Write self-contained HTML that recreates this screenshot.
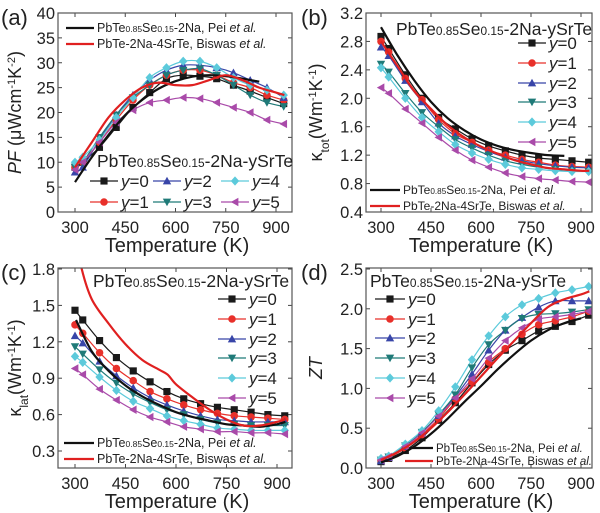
<!DOCTYPE html>
<html><head><meta charset="utf-8"><style>
html,body{margin:0;padding:0;background:#fff;}
svg{display:block;font-family:"Liberation Sans",sans-serif;}
</style></head><body>
<svg id="fig" width="600" height="513" viewBox="0 0 600 513" xmlns="http://www.w3.org/2000/svg"></svg>
<script>
// ---- shared data ----
const temps = [300,323,373,423,473,523,573,623,673,723,773,823,873,923];
const seriesLabels = ["y=0","y=1","y=2","y=3","y=4","y=5"];
const xTicks = [300,450,600,750,900];

// (a) power factor
const pfY0 = [9,10,13,17,21,24,26.8,27.5,27.3,26.8,25.5,24.3,23,21.8];
const pfY1 = [9,10,14,18.5,22.5,25.5,27.5,28.5,28.5,27.5,26,25,23.5,22.5];
const pfY2 = [8,9,14.5,19.5,23.5,26.5,28.5,29.5,29.5,29,28,26.5,25,23];
const pfY3 = [9,10,15,19.5,23,25.5,27.5,28.5,28.8,27.5,25.5,23.5,22,21.2];
const pfY4 = [10,11,14.5,19,23,27,29,30.3,30.3,29,27,25.5,24.5,23.5];
const pfY5 = [8.5,10,14,18,20.5,22,22.5,23,22.8,22,21,20,18.5,17.7];
const peiPfT = [300,350,400,450,500,550,600,650,700,750,800,850];
const peiPf = [6,11,15.5,19.5,22.5,24.8,26.3,27.2,27.5,27.3,26.8,26.2];
const bisPfT = [300,350,400,450,500,550,600,650,700,750,800,850,900,925];
const bisPf = [9,14,19,22.5,25,26,25.5,25.5,26.5,27.5,26.5,25,24,23.5];
const pfTicks = [0,5,10,15,20,25,30,35,40];

// (b) total thermal conductivity
const ktY0 = [2.87,2.7,2.33,2.0,1.73,1.57,1.43,1.33,1.26,1.2,1.16,1.14,1.12,1.10];
const ktY1 = [2.8,2.65,2.28,1.98,1.7,1.5,1.38,1.27,1.2,1.14,1.1,1.06,1.04,1.03];
const ktY2 = [2.72,2.6,2.25,1.95,1.65,1.47,1.35,1.25,1.17,1.12,1.08,1.05,1.03,1.02];
const ktY3 = [2.48,2.37,2.07,1.8,1.6,1.42,1.3,1.2,1.12,1.07,1.03,1.0,0.98,0.97];
const ktY4 = [2.43,2.3,2.0,1.73,1.53,1.35,1.23,1.14,1.07,1.02,1.0,0.98,0.97,0.97];
const ktY5 = [2.15,2.07,1.85,1.65,1.45,1.27,1.13,1.03,0.95,0.9,0.87,0.85,0.83,0.82];
const peiKtT = [300,350,400,450,500,550,600,650,700,750,800,850];
const peiKt = [3.0,2.6,2.25,1.95,1.72,1.55,1.42,1.33,1.27,1.23,1.2,1.19];
const bisKtT = [300,350,400,450,500,550,600,650,700,750,800,850,900,925];
const bisKt = [2.8,2.45,2.1,1.85,1.62,1.45,1.32,1.22,1.13,1.07,1.02,1.0,0.98,0.98];
const ktTicks = [0.4,0.8,1.2,1.6,2.0,2.4,2.8,3.2];

// (c) lattice thermal conductivity
const klY0 = [1.46,1.38,1.21,1.07,0.96,0.87,0.79,0.73,0.69,0.66,0.64,0.62,0.60,0.59];
const klY1 = [1.34,1.27,1.11,0.98,0.88,0.79,0.73,0.68,0.64,0.61,0.59,0.58,0.57,0.56];
const klY2 = [1.25,1.19,1.04,0.92,0.82,0.74,0.68,0.63,0.59,0.56,0.55,0.54,0.54,0.54];
const klY3 = [1.16,1.10,0.97,0.86,0.77,0.70,0.64,0.60,0.56,0.53,0.52,0.51,0.51,0.51];
const klY4 = [1.08,1.03,0.91,0.80,0.71,0.65,0.59,0.55,0.52,0.49,0.48,0.47,0.47,0.47];
const klY5 = [0.98,0.93,0.81,0.72,0.64,0.58,0.54,0.50,0.48,0.46,0.46,0.45,0.45,0.44];
const peiKlT = [303,350,400,450,500,550,600,650,700,750,800,850,900,925];
const peiKl = [1.38,1.12,0.96,0.84,0.75,0.68,0.62,0.58,0.55,0.52,0.51,0.50,0.52,0.54];
const bisKlT = [300,320,350,400,450,500,550,575,600,650,700,750,800,850,900,925];
const bisKl = [2.1,1.8,1.55,1.35,1.18,1.05,0.97,0.93,0.85,0.74,0.64,0.56,0.51,0.51,0.54,0.56];
const klTicks = [0.3,0.6,0.9,1.2,1.5,1.8];

// (d) ZT
const ztY0 = [0.08,0.12,0.22,0.38,0.6,0.82,1.07,1.3,1.48,1.6,1.72,1.78,1.84,1.92];
const ztY1 = [0.1,0.13,0.25,0.42,0.62,0.87,1.08,1.33,1.5,1.68,1.8,1.85,1.9,1.97];
const ztY2 = [0.09,0.13,0.27,0.45,0.66,0.9,1.18,1.48,1.73,1.89,2.02,2.1,2.1,2.1];
const ztY3 = [0.1,0.14,0.28,0.45,0.67,0.92,1.26,1.55,1.73,1.88,1.93,1.94,1.96,1.99];
const ztY4 = [0.12,0.15,0.3,0.47,0.72,1.02,1.36,1.66,1.9,2.05,2.13,2.2,2.24,2.28];
const ztY5 = [0.1,0.14,0.27,0.44,0.65,0.88,1.12,1.38,1.6,1.76,1.87,1.9,1.93,1.97];
const peiZtT = [300,350,400,450,500,550,600,650,700,750,800,850,900];
const peiZt = [0.07,0.15,0.27,0.43,0.62,0.83,1.03,1.24,1.43,1.6,1.73,1.82,1.88];
const bisZtT = [300,350,400,450,500,550,600,650,700,750,800,850,900,925];
const bisZt = [0.1,0.2,0.33,0.5,0.7,0.92,1.15,1.38,1.6,1.82,2.02,2.12,2.18,2.22];
const ztTicks = [0.0,0.5,1.0,1.5,2.0,2.5];

const colors = ["#1a1a1a","#e8302a","#3845a8","#1f7a78","#5ccadb","#a94aa9"];
const markers = ["square","circle","up","down","diamond","left"];
const NS = "http://www.w3.org/2000/svg";
const svg = document.getElementById("fig");

function el(tag, attrs, parent){ const e=document.createElementNS(NS,tag); for(const k in attrs) e.setAttribute(k,attrs[k]); (parent||svg).appendChild(e); return e; }

function smoothPath(pts){
  let d="M"+pts[0][0]+","+pts[0][1];
  for(let i=0;i<pts.length-1;i++){
    const p0=pts[i-1]||pts[i], p1=pts[i], p2=pts[i+1], p3=pts[i+2]||p2;
    const c1=[p1[0]+(p2[0]-p0[0])/6, p1[1]+(p2[1]-p0[1])/6];
    const c2=[p2[0]-(p3[0]-p1[0])/6, p2[1]-(p3[1]-p1[1])/6];
    d+=" C"+c1[0]+","+c1[1]+" "+c2[0]+","+c2[1]+" "+p2[0]+","+p2[1];
  }
  return d;
}

function marker(g, type, x, y, color, s){
  s = s||4.2;
  let m;
  if(type==="square") m=el("rect",{x:x-s*0.85,y:y-s*0.85,width:s*1.7,height:s*1.7,fill:color},g);
  else if(type==="circle") m=el("circle",{cx:x,cy:y,r:s*0.9,fill:color},g);
  else {
    let p;
    if(type==="up") p=[[x,y-s],[x+s,y+s*0.8],[x-s,y+s*0.8]];
    if(type==="down") p=[[x,y+s],[x+s,y-s*0.8],[x-s,y-s*0.8]];
    if(type==="left") p=[[x-s,y],[x+s*0.8,y-s],[x+s*0.8,y+s]];
    if(type==="diamond") p=[[x,y-s*1.1],[x+s,y],[x,y+s*1.1],[x-s,y]];
    m=el("polygon",{points:p.map(q=>q.join(",")).join(" "),fill:color},g);
  }
  return m;
}

function compText(parent, x, y, size, italicTail, parts){
  const t=el("text",{x:x,y:y,"font-size":size,fill:"#222"},parent);
  parts.forEach(p=>{ const ts=el("tspan",{},t); ts.textContent=p[0]; if(p[1]) ts.setAttribute("font-size",size*0.68); if(p[2]) ts.setAttribute("font-style","italic"); });
  return t;
}
const compTitle = [["PbTe"],["0.85",1],["Se"],["0.15",1],["-2Na-ySrTe"]];
const peiLabel = [["PbTe"],["0.85",1],["Se"],["0.15",1],["-2Na, Pei "],["et al.",0,1]];
const bisLabel = [["PbTe-2Na-4SrTe, Biswas "],["et al.",0,1]];

function panel(cfg){
  const g=el("g",{},svg);
  
  
  const X=t=>cfg.x300+(t-300)*cfg.xs;
  const Y=v=>cfg.yb+(v-cfg.ymin)*(cfg.yt-cfg.yb)/(cfg.ymax-cfg.ymin);
  const top=cfg.boxTop, bot=cfg.boxBot;
  const clipId="clip-"+cfg.name;
  const cp=el("clipPath",{id:clipId},g); el("rect",{x:cfg.bl,y:top,width:cfg.br-cfg.bl,height:bot-top},cp);
  cfg.yticks.forEach(v=>{
    const yy=Y(v);
    el("line",{x1:cfg.bl,y1:yy,x2:cfg.bl+4,y2:yy,stroke:"#444","stroke-width":1},g);
    el("line",{x1:cfg.br,y1:yy,x2:cfg.br-4,y2:yy,stroke:"#444","stroke-width":1},g);
    const t=el("text",{x:cfg.bl-3,y:yy+6,"text-anchor":"end","font-size":16.5,fill:"#222"},g);
    t.textContent=cfg.fmt(v);
    
    
  });
  xTicks.forEach(v=>{
    const xx=X(v);
    el("line",{x1:xx,y1:bot,x2:xx,y2:bot-4,stroke:"#444","stroke-width":1},g);
    el("line",{x1:xx,y1:top,x2:xx,y2:top+4,stroke:"#444","stroke-width":1},g);
    const t=el("text",{x:xx,y:bot+21,"text-anchor":"middle","font-size":16.5,fill:"#222"},g);
    t.textContent=v;
    
    
  });
  const xt=el("text",{x:(cfg.bl+cfg.br)/2+2,y:bot+40,"text-anchor":"middle","font-size":20,fill:"#222"},g);
  xt.textContent="Temperature (K)";
  
  
  const pl=el("text",{x:cfg.letterX,y:top+12,"font-size":22,fill:"#222"},g);
  pl.textContent=cfg.letter;
  
  
  const yt=el("text",{transform:`translate(${cfg.ytX},${(top+bot)/2}) rotate(-90)`,"text-anchor":"middle","font-size":18,fill:"#222"},g);
  cfg.ytitle.forEach(p=>{const ts=el("tspan",{},yt); ts.textContent=p[0]; if(p[1]==="i") ts.setAttribute("font-style","italic"); if(p[1]==="sup"){ts.setAttribute("font-size",11);ts.setAttribute("baseline-shift","super");} if(p[1]==="sub"){ts.setAttribute("font-size",12);ts.setAttribute("baseline-shift","sub");}});
  
  
  const dg=el("g",{"clip-path":`url(#${clipId})`},g);
  cfg.series.forEach((arr,i)=>{
    const pts=temps.map((t,j)=>[X(t),Y(arr[j])]);
    const p=el("path",{d:smoothPath(pts),fill:"none",stroke:colors[i],"stroke-width":1.2},dg);
    
    
  });
  cfg.series.forEach((arr,i)=>{
    temps.forEach((t,j)=>{
      const m=marker(dg,markers[i],X(t),Y(arr[j]),colors[i]);
      
      
    });
  });
  [[cfg.peiT,cfg.pei,"#111","pei-reference-line"],[cfg.bisT,cfg.bis,"#e02020","biswas-reference-line"]].forEach(r=>{
    const pts=r[0].map((t,j)=>[X(t),Y(r[1][j])]);
    const p=el("path",{d:smoothPath(pts),fill:"none",stroke:r[2],"stroke-width":2.2},dg);
    
    
  });
  el("rect",{x:cfg.bl,y:top,width:cfg.br-cfg.bl,height:bot-top,fill:"none",stroke:"#555","stroke-width":1.2},g);
  const lg=cfg.leg;
  const tt=compText(g,lg.titleX,lg.titleY,17.5,0,compTitle);
  
  
  lg.pos.forEach((p,i)=>{
    el("line",{x1:p[0],y1:p[1],x2:p[0]+lg.len,y2:p[1],stroke:colors[i],"stroke-width":1.3},g);
    const m=marker(g,markers[i],p[0]+lg.len/2,p[1],colors[i]);
    
    
    const t=el("text",{x:p[0]+lg.len+3,y:p[1]+6,"font-size":17,fill:"#222"},g);
    const a=el("tspan",{"font-style":"italic"},t); a.textContent="y";
    const b=el("tspan",{},t); b.textContent="="+i;
    
    
  });
  const rl=cfg.rleg;
  [[peiLabel,"#111",rl.y1],[bisLabel,"#e02020",rl.y2]].forEach((r,k)=>{
    el("line",{x1:k===0?rl.x1:rl.x1b,y1:r[2],x2:rl.x2,y2:r[2],stroke:r[1],"stroke-width":2.2},g);
    const t=compText(g,rl.x2+3,r[2]+4,rl.fs,0,r[0]);
    
    
  });
}

panel({name:"panel-a-power-factor",letter:"(a)",letterX:1,bl:58,br:292,boxTop:13,boxBot:212,x300:75,xs:201/600,
  ymin:0,ymax:40,yb:212,yt:13,yticks:pfTicks,fmt:v=>v,ytX:21,
  ytitle:[["PF","i"],[" (μWcm"],["-1","sup"],["K"],["-2","sup"],[")"]],
  series:[pfY0,pfY1,pfY2,pfY3,pfY4,pfY5],peiT:peiPfT,pei:peiPf,bisT:bisPfT,bis:bisPf,
  leg:{titleX:97,titleY:167,len:28,pos:[[90,181],[90,202],[153,181],[153,202],[221,181],[221,202]]},
  rleg:{x1:66,x1b:66,x2:94,y1:28,y2:44,fs:12.5}});
panel({name:"panel-b-total-thermal-conductivity",letter:"(b)",letterX:301,bl:366,br:592,boxTop:13,boxBot:212,x300:381,xs:200/600,
  ymin:0.4,ymax:3.2,yb:212,yt:13,yticks:ktTicks,fmt:v=>v.toFixed(1),ytX:322,
  ytitle:[["κ"],["tot","sub"],["(Wm"],["-1","sup"],["K"],["-1","sup"],[")"]],
  series:[ktY0,ktY1,ktY2,ktY3,ktY4,ktY5],peiT:peiKtT,pei:peiKt,bisT:bisKtT,bis:bisKt,
  leg:{titleX:396,titleY:35,len:28,pos:[[518,43],[518,63],[518,83],[518,102],[518,122],[518,142]]},
  rleg:{x1:370,x1b:370,x2:400,y1:190,y2:206,fs:12}});
panel({name:"panel-c-lattice-thermal-conductivity",letter:"(c)",letterX:1,bl:58,br:292,boxTop:268,boxBot:468,x300:75,xs:202/600,
  ymin:0.3,ymax:1.8,yb:451,yt:269,yticks:klTicks,fmt:v=>v.toFixed(1),ytX:21,
  ytitle:[["κ"],["lat","sub"],["(Wm"],["-1","sup"],["K"],["-1","sup"],[")"]],
  series:[klY0,klY1,klY2,klY3,klY4,klY5],peiT:peiKlT,pei:peiKl,bisT:bisKlT,bis:bisKl,
  leg:{titleX:93,titleY:287,len:28,pos:[[218,299],[218,319],[218,339],[218,358],[218,378],[218,398]]},
  rleg:{x1:64,x1b:64,x2:94,y1:443,y2:459,fs:12.5}});
panel({name:"panel-d-zt",letter:"(d)",letterX:301,bl:366,br:592,boxTop:268,boxBot:468,x300:381,xs:200/600,
  ymin:0,ymax:2.5,yb:468,yt:269,yticks:ztTicks,fmt:v=>v.toFixed(1),ytX:322,
  ytitle:[["ZT","i"]],
  series:[ztY0,ztY1,ztY2,ztY3,ztY4,ztY5],peiT:peiZtT,pei:peiZt,bisT:bisZtT,bis:bisZt,
  leg:{titleX:370,titleY:287,len:30,pos:[[375,299],[375,319],[375,338],[375,358],[375,378],[375,398]]},
  rleg:{x1:410,x1b:405,x2:433,y1:448,y2:461,fs:11.5}});
</script>
</body></html>
